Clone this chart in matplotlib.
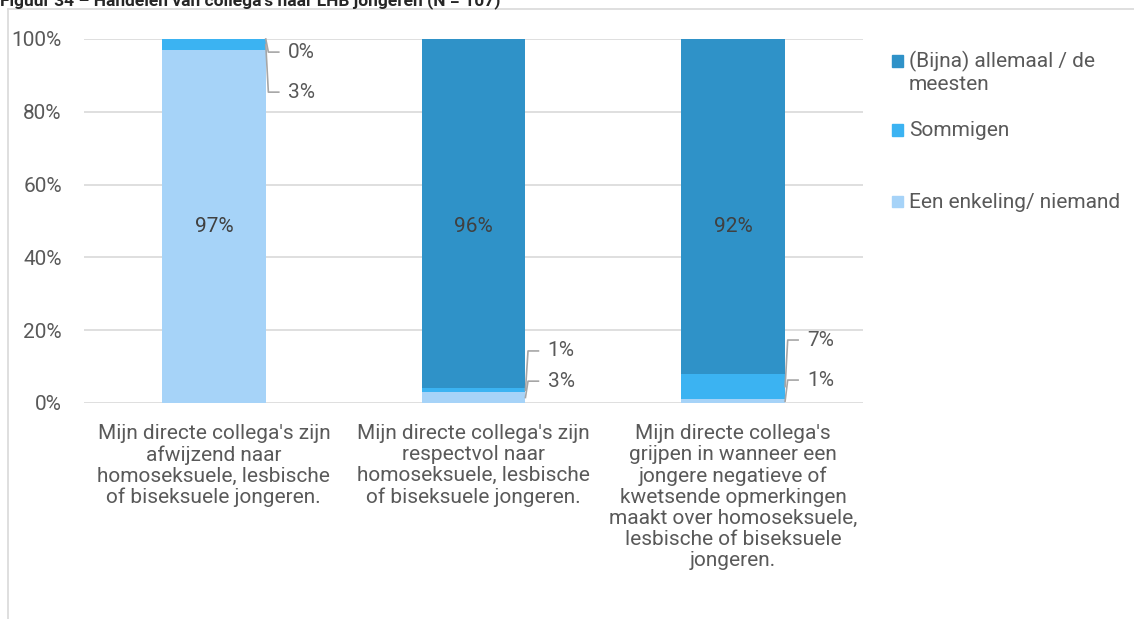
import matplotlib.pyplot as plt
from matplotlib.patches import Rectangle
from matplotlib.lines import Line2D
import numpy as np

plt.rcParams['font.family'] = ['Roboto', 'DejaVu Sans']

categories = [
    "Mijn directe collega's zijn\nafwijzend naar\nhomoseksuele, lesbische\nof biseksuele jongeren.",
    "Mijn directe collega's zijn\nrespectvol naar\nhomoseksuele, lesbische\nof biseksuele jongeren.",
    "Mijn directe collega's\ngrijpen in wanneer een\njongere negatieve of\nkwetsende opmerkingen\nmaakt over homoseksuele,\nlesbische of biseksuele\njongeren.",
]
series_names = ['Een enkeling/ niemand', 'Sommigen', '(Bijna) allemaal / de\nmeesten']
enkeling = [97, 3, 1]
sommigen = [3, 1, 7]
allemaal = [0, 96, 92]
colors = ['#A6D3F8', '#3BB3F2', '#2F92C8']

# small segments get a label outside the bar, with a leader line:
# (bar, series index, label height in %)
outside = [(0, 2, 96.4), (0, 1, 85.4),
           (1, 1, 14.3), (1, 0, 6.0),
           (2, 1, 17.3), (2, 0, 6.3)]

grey = '#595959'
fs = 15
fig = plt.figure(figsize=(11.34, 6.19), dpi=100)
ax = fig.add_axes([84 / 1134, 1 - 403 / 619, 779 / 1134, 364 / 619])

x = np.arange(len(categories))
values = [enkeling, sommigen, allemaal]
width = 0.4
bottom = np.zeros(len(categories))
for vals, c in zip(values, colors):
    ax.bar(x, vals, width, bottom=bottom, color=c, zorder=3)
    bottom += np.array(vals)

# value of the big segment, halfway up the plot
for i in range(len(categories)):
    big = max(range(3), key=lambda s: values[s][i])
    ax.text(i, 48.5, f"{values[big][i]}%", ha='center', va='center',
            fontsize=fs, color='#404040', zorder=4)

# leader lines for the thin segments
for i, s, ly in outside:
    base = sum(values[k][i] for k in range(s))
    mid = base + values[s][i] / 2
    edge = i + width / 2
    ax.add_line(Line2D([edge, edge + 0.01, edge + 0.05], [mid, ly, ly],
                       color='#A6A6A6', lw=1.2, zorder=4, clip_on=False))
    ax.text(edge + 0.085, ly, f"{values[s][i]}%", ha='left', va='center',
            fontsize=fs, color=grey)

ax.set_xlim(-0.5, 2.5)
ax.set_ylim(0, 100)
ax.set_yticks(range(0, 101, 20))
ax.set_yticklabels([f"{v}%" for v in range(0, 101, 20)])
ax.set_xticks(x)
ax.set_xticklabels(categories, fontsize=fs, color=grey, linespacing=1.14)
ax.tick_params(axis='both', length=0, labelsize=fs, labelcolor=grey)
ax.tick_params(axis='y', pad=16)
ax.tick_params(axis='x', pad=15)
ax.grid(axis='y', color='#D9D9D9', lw=1.2, zorder=0)
for sp in ax.spines.values():
    sp.set_visible(False)

# legend, drawn by hand
legend_rows = [(series_names[2], 61), (series_names[1], 130), (series_names[0], 202)]
legend_cols = [colors[2], colors[1], colors[0]]
for (name, yp), c in zip(legend_rows, legend_cols):
    fig.add_artist(Rectangle((892 / 1134, 1 - (yp + 5.5) / 619), 11 / 1134, 11 / 619,
                             color=c, transform=fig.transFigure))
    for k, line in enumerate(name.split('\n')):
        fig.text(909 / 1134, 1 - (yp + 23 * k) / 619, line, ha='left', va='center',
                 fontsize=fs, color=grey)

# chart frame
fig.add_artist(Line2D([8 / 1134, 8 / 1134], [0, 1 - 9 / 619], color='#D9D9D9', lw=1.2))
fig.add_artist(Line2D([8 / 1134, 1], [1 - 9 / 619, 1 - 9 / 619], color='#D9D9D9', lw=1.2))

# caption, cut off at the top edge
fig.text(0, 1 - 5 / 619, "Figuur 34 \u2013 Handelen van collega's naar LHB jongeren (N = 107)",
         ha='left', va='baseline', fontsize=12.5, fontweight='bold', color='#262626')

fig.savefig('out.png', dpi=100)
